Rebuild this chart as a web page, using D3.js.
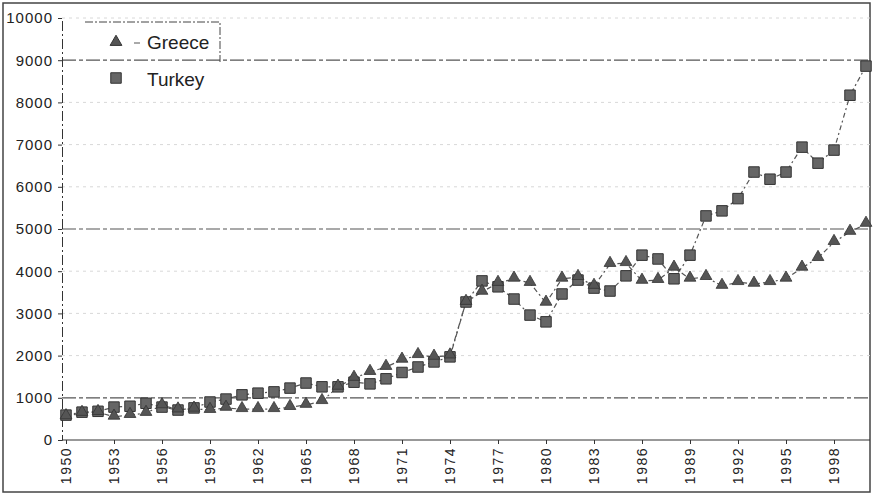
<!DOCTYPE html>
<html><head><meta charset="utf-8">
<script src="https://cdn.jsdelivr.net/npm/d3@7"></script>
<style>body{margin:0;background:#fff}</style>
</head><body>
<svg id="c" width="874" height="494"></svg>
<script>
const years = d3.range(1950, 2001);
const greece = [560,640,660,550,590,640,820,720,740,710,760,730,730,730,780,830,920,1260,1470,1610,1730,1900,2010,1970,2000,3270,3510,3720,3820,3720,3250,3820,3860,3650,4170,4190,3770,3790,4080,3820,3860,3650,3740,3700,3740,3820,4080,4310,4690,4930,5120];
const turkey = [590,660,680,780,800,870,780,710,760,900,970,1070,1110,1140,1230,1350,1260,1260,1370,1330,1450,1600,1730,1850,1970,3270,3770,3630,3340,2960,2800,3460,3790,3600,3530,3890,4380,4290,3820,4380,5310,5430,5720,6350,6180,6350,6940,6560,6870,8170,8860];
const yTicks = [0,1000,2000,3000,4000,5000,6000,7000,8000,9000,10000];
const xTicks = d3.range(1950, 1999, 3);
const strongLines = [1000,5000,9000];

const svg = d3.select('#c');
const x = d3.scaleLinear().domain([1950, 2000]).range([66, 866]);
const y = d3.scaleLinear().domain([0, 10000]).range([440, 18]);

// outer frame
svg.append('rect').attr('x',3).attr('y',3).attr('width',867).attr('height',489)
  .attr('fill','none').attr('stroke','#444').attr('stroke-width',1.5);

// gridlines
svg.append('g').selectAll('line').data(yTicks.filter(d=>d>0)).join('line')
  .attr('x1',62).attr('x2',870).attr('y1',d=>y(d)).attr('y2',d=>y(d))
  .attr('stroke',d=>strongLines.includes(d)?'#555':'#d8d8d8')
  .attr('stroke-width',d=>strongLines.includes(d)?1.2:1)
  .attr('stroke-dasharray',d=>strongLines.includes(d)?'14,3,4,3':'3,4');

// axes
const yAxis = svg.append('g').attr('transform','translate(62,0)')
  .call(d3.axisLeft(y).tickValues(yTicks).tickSize(4).tickFormat(d3.format('d')));
yAxis.select('.domain').attr('stroke','#333').attr('stroke-dasharray','10,3,2,3');
yAxis.selectAll('.tick line').attr('stroke','#333');
yAxis.selectAll('text').attr('font-family','Arial, Liberation Sans, sans-serif')
  .attr('font-size',15).attr('fill','#222').attr('letter-spacing','1px').attr('dx','-2');

const xAxis = svg.append('g').attr('transform','translate(0,440)')
  .call(d3.axisBottom(x).tickValues(xTicks).tickSize(4).tickFormat(d3.format('d')));
xAxis.select('.domain').attr('stroke','#333').attr('d','M62,0H870');
xAxis.selectAll('.tick line').attr('stroke','#333');
xAxis.selectAll('text').attr('font-family','Arial, Liberation Sans, sans-serif')
  .attr('font-size',14).attr('fill','#222').attr('letter-spacing','1.5px')
  .attr('transform','rotate(-90)').attr('text-anchor','end')
  .attr('x',-7).attr('y',0).attr('dy','0.35em');

// lines
const line = d3.line().x((d,i)=>x(years[i])).y(d=>y(d));
[greece, turkey].forEach(s=>{
  svg.append('path').datum(s).attr('d',line).attr('fill','none')
    .attr('stroke','#555').attr('stroke-width',1.2).attr('stroke-dasharray','5,3,2,3');
});

// markers
const tri = d3.symbol().type(d3.symbolTriangle).size(60);
const sq = d3.symbol().type(d3.symbolSquare).size(110);
svg.append('g').selectAll('path').data(turkey).join('path')
  .attr('d',sq).attr('transform',(d,i)=>`translate(${x(years[i])},${y(d)})`)
  .attr('fill','#666').attr('stroke','#333').attr('stroke-width',1);
svg.append('g').selectAll('path').data(greece).join('path')
  .attr('d',tri).attr('transform',(d,i)=>`translate(${x(years[i])},${y(d)-1})`)
  .attr('fill','#555').attr('stroke','#333').attr('stroke-width',0.8);

// legend
const lg = svg.append('g');
lg.append('path').attr('d','M85,22H220V62').attr('fill','none').attr('stroke','#444').attr('stroke-dasharray','8,2,2,2');
lg.append('path').attr('d',tri).attr('transform','translate(116,42)').attr('fill','#555').attr('stroke','#333');
lg.append('line').attr('x1',134).attr('x2',140).attr('y1',43).attr('y2',43).attr('stroke','#555');
lg.append('path').attr('d',sq).attr('transform','translate(116,78)').attr('fill','#666').attr('stroke','#333');
lg.append('text').attr('x',147).attr('y',49).text('Greece');
lg.append('text').attr('x',147).attr('y',86).text('Turkey');
lg.selectAll('text').attr('font-family','Arial, Liberation Sans, sans-serif').attr('font-size',19).attr('fill','#222');
</script>
</body></html>
